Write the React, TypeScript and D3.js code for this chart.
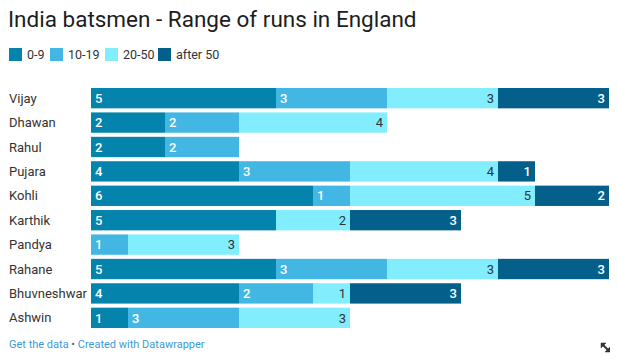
import React, { useRef, useEffect } from 'react';
import * as d3 from 'd3';

const players = ['Vijay', 'Dhawan', 'Rahul', 'Pujara', 'Kohli', 'Karthik', 'Pandya', 'Rahane', 'Bhuvneshwar', 'Ashwin'];
const seriesNames = ['0-9', '10-19', '20-50', 'after 50'];
const runs0to9 = [5, 2, 2, 4, 6, 5, 0, 5, 4, 1];
const runs10to19 = [3, 2, 2, 3, 1, 0, 1, 3, 2, 3];
const runs20to50 = [3, 4, 0, 4, 5, 2, 3, 3, 1, 3];
const runsAfter50 = [3, 0, 0, 1, 2, 3, 0, 3, 3, 0];

const colors = ['#0483ad', '#42b7e3', '#82eefd', '#045f8a'];
const labelColors = ['#ffffff', '#ffffff', '#333333', '#ffffff'];

const App = () => {
    const chartRef = useRef<SVGSVGElement>(null);

    useEffect(() => {
        const width = 618;
        const height = 361;
        const marginLeft = 91;
        const marginRight = 9;
        const top = 88;

        const table = players.map((p, i) => ({
            player: p,
            '0-9': runs0to9[i],
            '10-19': runs10to19[i],
            '20-50': runs20to50[i],
            'after 50': runsAfter50[i],
        }));

        const stack = d3.stack<any>().keys(seriesNames)(table);

        const x = d3.scaleLinear()
            .domain([0, d3.max(table, d => d['0-9'] + d['10-19'] + d['20-50'] + d['after 50'])!])
            .range([marginLeft, width - marginRight]);

        const y = d3.scaleBand()
            .domain(players)
            .range([top, top + players.length * 24])
            .paddingInner(4 / 24)
            .paddingOuter(0);

        const svg = d3.select(chartRef.current)
            .attr('width', width)
            .attr('height', height)
            .style('font-family', 'Roboto, sans-serif');
        svg.selectAll('*').remove();

        svg.append('text')
            .attr('x', 8)
            .attr('y', 27)
            .attr('font-size', 22.5)
            .attr('fill', '#1d1d1d')
            .text('India batsmen - Range of runs in England');

        // legend
        const legendX = [9, 50, 105, 158];
        const legend = svg.append('g')
            .selectAll('g')
            .data(seriesNames)
            .join('g')
            .attr('transform', (d, i) => `translate(${legendX[i]},48)`);
        legend.append('rect')
            .attr('width', 13).attr('height', 13)
            .attr('fill', (d, i) => colors[i]);
        legend.append('text')
            .attr('x', 18).attr('y', 11)
            .attr('font-size', 12.5)
            .attr('fill', '#333')
            .text(d => d);

        // category labels
        svg.append('g')
            .selectAll('text')
            .data(players)
            .join('text')
            .attr('x', 9)
            .attr('y', d => y(d)! + y.bandwidth() / 2)
            .attr('dy', '0.35em')
            .attr('font-size', 13)
            .attr('fill', '#333')
            .text(d => d);

        const layers = svg.append('g')
            .selectAll('g')
            .data(stack)
            .join('g')
            .attr('fill', (d, i) => colors[i]);

        layers.selectAll('rect')
            .data(d => d.filter(s => s[1] > s[0]))
            .join('rect')
            .attr('x', d => x(d[0]))
            .attr('y', d => y(d.data.player)!)
            .attr('width', d => x(d[1]) - x(d[0]))
            .attr('height', y.bandwidth());

        stack.forEach((layer, i) => {
            const right = i >= 2;
            svg.append('g')
                .selectAll('text')
                .data(layer.filter(s => s[1] > s[0]))
                .join('text')
                .attr('x', d => right ? x(d[1]) - 4 : x(d[0]) + 4)
                .attr('y', d => y(d.data.player)! + y.bandwidth() / 2)
                .attr('dy', '0.36em')
                .attr('text-anchor', right ? 'end' : 'start')
                .attr('font-size', 13)
                .attr('font-weight', i === 2 ? 400 : 500)
                .attr('fill', labelColors[i])
                .text(d => d[1] - d[0]);
        });

        // footer
        const foot = svg.append('text')
            .attr('x', 9)
            .attr('y', 348)
            .attr('font-size', 11)
            .attr('fill', '#3d9ad3');
        foot.append('tspan').text('Get the data');
        foot.append('tspan').attr('fill', '#666').text(' • ');
        foot.append('tspan').text('Created with Datawrapper');

        // resize icon
        const icon = svg.append('g')
            .attr('transform', 'translate(601,343)')
            .attr('stroke', '#333')
            .attr('stroke-width', 2);
        icon.append('line').attr('x1', 1).attr('y1', 1).attr('x2', 8).attr('y2', 8);
        icon.append('path').attr('d', 'M0,0 L5,0 L0,5 Z').attr('fill', '#333').attr('stroke-width', 0.5);
        icon.append('path').attr('d', 'M9,9 L4,9 L9,4 Z').attr('fill', '#333').attr('stroke-width', 0.5);
    }, []);

    return (
        <div style={{ margin: '-8px' }}>
            <svg ref={chartRef}></svg>
        </div>
    );
};

export default App;
